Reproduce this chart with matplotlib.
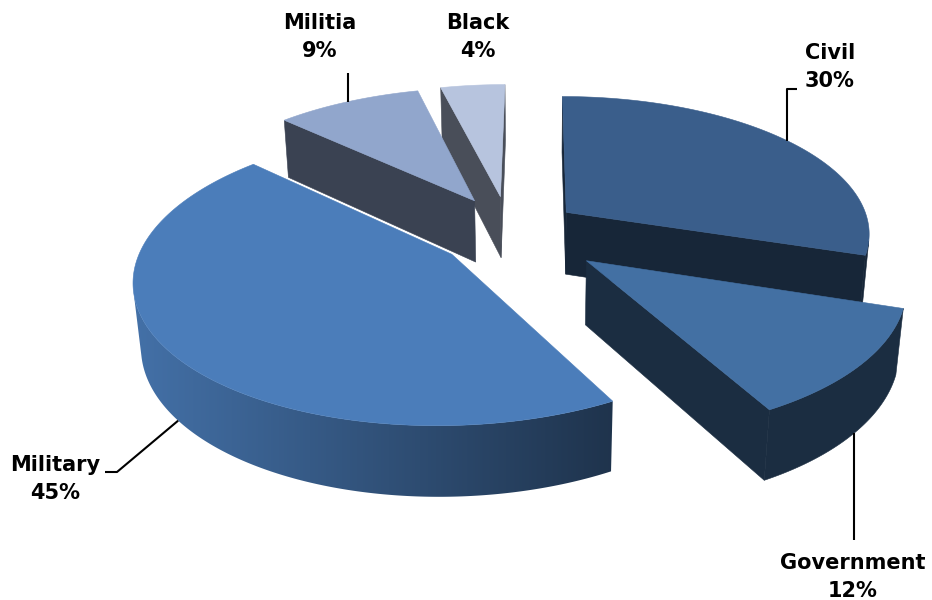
import numpy as np
import matplotlib
matplotlib.use('Agg')
import matplotlib.pyplot as plt
from matplotlib.patches import Polygon
from matplotlib.colors import to_rgb

categories = ['Civil', 'Government', 'Military', 'Militia', 'Black']
shares = [30, 12, 45, 9, 4]

# look of each slice
top_colors = ['#3A5E8B', '#4370A3', '#4B7DBA', '#91A6CC', '#B7C4DE']
explode_x = [0.099, 0.158, -0.271, -0.210, -0.123]   # pie radii, to the right
explode_y = [0.086, -0.260, -0.216, 0.174, 0.206]    # pie radii, away from viewer
SHADE = 0.4

# camera (perspective view of a pie of radius 1)
ELEV = 0.5005
DIST = 6.0534
FOCAL = 1799.14
CX, CY = 536.61, 286.28
THICK = 0.2347

# label text centre and leader elbows, in pixels
label_pos = {'Civil': (830, 67), 'Government': (853, 577), 'Military': (55, 479),
             'Militia': (320, 37), 'Black': (478, 37)}
leader_to = {'Civil': [(None, 89), (797, 89)], 'Government': [(None, 540)],
             'Military': [(117, 472), (105, 472)], 'Militia': [(None, 73)], 'Black': []}


def project(X, Y, Z):
    s, c = np.sin(ELEV), np.cos(ELEV)
    d = DIST + Y * c - Z * s
    return CX + FOCAL * X / d, CY - FOCAL * (Y * s + Z * c) / d


cam = np.array([0.0, -DIST * np.cos(ELEV), DIST * np.sin(ELEV)])


def facing(p, n):
    return np.dot(cam - p, n) > 0


def pt(i, t, z):
    return np.array([explode_x[i] + np.sin(t), explode_y[i] + np.cos(t), z])


def scr(p):
    return project(p[0], p[1], p[2])


total = sum(shares)
bounds = np.concatenate([[0], np.cumsum(shares)]) * 360.0 / total
mids = (bounds[:-1] + bounds[1:]) / 2

fig = plt.figure(figsize=(9.32, 6.0), dpi=100)
ax = fig.add_axes([0, 0, 1, 1])
ax.set_xlim(0, 932)
ax.set_ylim(600, 0)
ax.axis('off')

order = sorted(range(len(shares)),
               key=lambda i: -(explode_y[i] + 0.5 * np.cos(np.radians(mids[i]))))

zo = 2.0


def add_poly(points, color):
    global zo
    zo += 0.01
    ax.add_patch(Polygon(points, closed=True, facecolor=color, edgecolor=color,
                         linewidth=0.4, zorder=zo))


for i in order:
    a0, a1 = np.radians(bounds[i]), np.radians(bounds[i + 1])
    top = np.array(to_rgb(top_colors[i]))
    side = top * SHADE
    apex_t = np.array([explode_x[i], explode_y[i], THICK])
    apex_b = np.array([explode_x[i], explode_y[i], 0.0])

    # radial cut faces
    for t, n in ((a0, np.array([-np.cos(a0), np.sin(a0), 0])),
                 (a1, np.array([np.cos(a1), -np.sin(a1), 0]))):
        if facing(apex_t, n):
            add_poly([scr(q) for q in (apex_t, pt(i, t, THICK), pt(i, t, 0), apex_b)], side)

    # curved outer wall (visible part only)
    ts = np.linspace(a0, a1, max(8, int(np.degrees(a1 - a0)) * 3))
    vis = [t for t in ts if facing(pt(i, t, THICK / 2), np.array([np.sin(t), np.cos(t), 0]))]
    if len(vis) > 1:
        wall = [scr(pt(i, t, THICK)) for t in vis] + [scr(pt(i, t, 0)) for t in vis[::-1]]
        if categories[i] == 'Military':
            # gradient: light on the left, dark towards the cut on the right
            wx = np.array([p[0] for p in wall])
            wy = np.array([p[1] for p in wall])
            x0, x1 = wx.min(), wx.max()
            u = np.linspace(0, 1, 400)
            grad = top[None, :] * (0.9 - 0.49 * u)[:, None]
            zo += 0.01
            clip = Polygon(wall, closed=True, facecolor='none', edgecolor='none',
                           transform=ax.transData)
            ax.add_patch(clip)
            im = ax.imshow(grad[None, :, :], extent=(x0, x1, wy.max() + 1, wy.min() - 1),
                           aspect='auto', interpolation='bilinear', zorder=zo)
            im.set_clip_path(clip)
        else:
            add_poly(wall, side)

    # top face
    add_poly([scr(apex_t)] + [scr(pt(i, t, THICK)) for t in ts], top)

ax.set_xlim(0, 932)
ax.set_ylim(600, 0)

# labels with leader lines
for i, name in enumerate(categories):
    tm = np.radians(mids[i])
    z = THICK if np.cos(tm) > 0 else 0.0
    ax_, ay_ = scr(pt(i, tm, z))
    path = [(ax_, ay_)]
    for (px, py) in leader_to[name]:
        path.append((path[-1][0] if px is None else px, py))
    if len(path) > 1:
        xs, ys = zip(*path)
        ax.plot(xs, ys, color='black', lw=1.5, solid_capstyle='butt', zorder=10)
    lx, ly = label_pos[name]
    ax.text(lx, ly, f'{name}\n{shares[i] / total:.0%}', ha='center', va='center',
            fontsize=15, fontweight='bold', family='DejaVu Sans',
            linespacing=1.5, zorder=11)

fig.savefig('out.png', dpi=100)
